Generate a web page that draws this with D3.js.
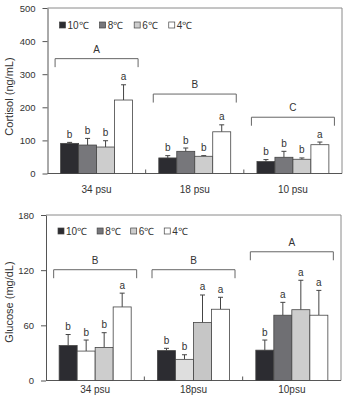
<!DOCTYPE html>
<html>
<head>
<meta charset="utf-8">
<script src="https://cdn.jsdelivr.net/npm/d3@7"></script>
<style>
  body { margin: 0; background: #fff; }
  text { font-family: "Liberation Sans", Arial, sans-serif; fill: #333; }
</style>
</head>
<body>
<svg></svg>
<script>
// data
var temps = ["10℃", "8℃", "6℃", "4℃"];
var tempColors = ["#2c2c31", "#77777b", "#cdcdcd", "#ffffff"];

var cortisolGroups = ["34 psu", "18 psu", "10 psu"];
var cortisolMean = [[91, 86, 80, 222], [47, 67, 52, 126], [36, 49, 43, 87]];
var cortisolErr = [[3, 20, 19, 46], [7, 10, 2, 21], [6, 18, 4, 8]];
var cortisolLetters = [["b", "b", "b", "a"], ["b", "b", "b", "a"], ["b", "b", "b", "a"]];
var cortisolGroupLetters = ["A", "B", "C"];
var cortisolBracket = [347, 240, 170];
var cortisolTicks = [0, 100, 200, 300, 400, 500];

var glucoseGroups = ["34 psu", "18psu", "10psu"];
var glucoseMean = [[38, 32, 36, 80], [32.5, 23, 63, 77.5], [33, 71, 77, 71]];
var glucoseErr = [[12, 12, 16, 15], [2.5, 5, 30, 13], [11, 14, 32, 27]];
var glucoseLetters = [["b", "b", "b", "a"], ["b", "b", "a", "a"], ["b", "a", "a", "a"]];
var glucoseGroupLetters = ["B", "B", "A"];
var glucoseBracket = [120.5, 120.5, 140];
var glucoseTicks = [0, 60, 120, 180];
// the glucose panel in the source uses different shades for some bars
var glucoseColors = [["#2c2c31", "#ffffff", "#cdcdcd", "#ffffff"],
                     ["#2c2c31", "#dedede", "#c6c6c6", "#ffffff"],
                     ["#2c2c31", "#6f6f73", "#cdcdcd", "#ffffff"]];

var svg = d3.select("svg")
            .attr("width", 345)
            .attr("height", 396);

var drawPanel = function(p)
{
  var x = d3.scaleBand()
            .domain(p.groups)
            .range([p.left, p.right]);

  var xIn = d3.scaleBand()
              .domain(temps)
              .range([0, x.bandwidth()])
              .paddingInner(0)
              .paddingOuter(0.73);

  var y = d3.scaleLinear()
            .domain([0, p.ticks[p.ticks.length - 1]])
            .range([p.bottom, p.top]);

  var g = svg.append("g");

  // frame top/right
  g.append("path")
   .attr("d", "M" + p.left + "," + y.range()[1] + "H" + p.right + "V" + p.bottom)
   .attr("fill", "none")
   .attr("stroke", "#8a8a8a")
   .attr("stroke-width", 1);

  // y axis
  var yAxis = g.append("g")
               .attr("transform", "translate(" + p.left + ",0)")
               .call(d3.axisLeft(y).tickValues(p.ticks).tickSize(5).tickPadding(7).tickSizeOuter(0));
  yAxis.select(".domain").attr("stroke", "#555");
  yAxis.selectAll(".tick line").attr("stroke", "#555");
  yAxis.selectAll(".tick text")
       .style("font-size", "9.5px")
       .style("font-family", "Liberation Sans, Arial, sans-serif")
       .attr("fill", "#333");

  // x axis line with inward ticks at group boundaries
  g.append("line")
   .attr("x1", p.left).attr("x2", p.right)
   .attr("y1", p.bottom).attr("y2", p.bottom)
   .attr("stroke", "#555");

  g.selectAll(".sep")
   .data(p.groups.slice(1))
   .enter()
   .append("line")
   .attr("x1", function(d){ return x(d); })
   .attr("x2", function(d){ return x(d); })
   .attr("y1", p.bottom)
   .attr("y2", p.bottom - 4)
   .attr("stroke", "#555");

  g.selectAll(".xlab")
   .data(p.groups)
   .enter()
   .append("text")
   .attr("x", function(d){ return x(d) + x.bandwidth() / 2; })
   .attr("y", p.bottom + p.labelOffset)
   .attr("text-anchor", "middle")
   .style("font-size", "10px")
   .text(function(d){ return d; });

  // y label
  g.append("text")
   .attr("transform", "translate(" + 12.5 + "," + p.labelY + ") rotate(-90)")
   .attr("text-anchor", "middle")
   .style("font-size", "11px")
   .text(p.yLabel);

  // bars per group
  var groups = g.selectAll(".grp")
                .data(p.groups)
                .enter()
                .append("g")
                .attr("transform", function(d){ return "translate(" + x(d) + ",0)"; });

  var rows = function(d, gi)
  {
    return temps.map(function(t, i)
    {
      return { t: t, v: p.mean[gi][i], e: p.err[gi][i], l: p.letters[gi][i], c: p.colors[gi][i] };
    });
  };

  groups.each(function(d, gi)
  {
    var grp = d3.select(this);
    var rs = rows(d, gi);

    grp.selectAll("line.err")
       .data(rs)
       .enter()
       .append("line")
       .attr("x1", function(r){ return xIn(r.t) + xIn.bandwidth() / 2; })
       .attr("x2", function(r){ return xIn(r.t) + xIn.bandwidth() / 2; })
       .attr("y1", function(r){ return y(r.v); })
       .attr("y2", function(r){ return y(r.v + r.e); })
       .attr("stroke", "#444");

    grp.selectAll("line.cap")
       .data(rs)
       .enter()
       .append("line")
       .attr("x1", function(r){ return xIn(r.t) + xIn.bandwidth() / 2 - 2.5; })
       .attr("x2", function(r){ return xIn(r.t) + xIn.bandwidth() / 2 + 2.5; })
       .attr("y1", function(r){ return y(r.v + r.e); })
       .attr("y2", function(r){ return y(r.v + r.e); })
       .attr("stroke", "#444");

    grp.selectAll("rect")
       .data(rs)
       .enter()
       .append("rect")
       .attr("x", function(r){ return xIn(r.t); })
       .attr("y", function(r){ return y(r.v); })
       .attr("width", xIn.bandwidth())
       .attr("height", function(r){ return p.bottom - y(r.v); })
       .attr("fill", function(r){ return r.c; })
       .attr("stroke", "#444")
       .attr("stroke-width", 0.8);

    grp.selectAll("text.let")
       .data(rs)
       .enter()
       .append("text")
       .attr("x", function(r){ return xIn(r.t) + xIn.bandwidth() / 2; })
       .attr("y", function(r){ return y(r.v + r.e) - 4.5; })
       .attr("text-anchor", "middle")
       .style("font-size", "10px")
       .text(function(r){ return r.l; });

    // bracket
    var cx = x.bandwidth() / 2;
    var by = y(p.bracket[gi]);
    grp.append("path")
       .attr("d", "M" + (cx - 41.5) + "," + (by + 8.5) + "V" + by + "H" + (cx + 41.5) + "V" + (by + 8.5))
       .attr("fill", "none")
       .attr("stroke", "#666");

    grp.append("text")
       .attr("x", cx)
       .attr("y", by - 6)
       .attr("text-anchor", "middle")
       .style("font-size", "10px")
       .text(p.groupLetters[gi]);
  });

  // legend
  var lx = p.left + 12;
  temps.forEach(function(t, i)
  {
    var item = g.append("g").attr("transform", "translate(" + lx + "," + p.legendY + ")");
    item.append("rect")
        .attr("x", 0).attr("y", -3)
        .attr("width", 6).attr("height", 6)
        .attr("fill", tempColors[i])
        .attr("stroke", "#444")
        .attr("stroke-width", 0.7);
    var tx = item.append("text")
                 .attr("x", 8)
                 .attr("y", 3.5)
                 .style("font-size", "10px")
                 .text(t);
    lx += 8 + tx.node().getComputedTextLength() + p.legendGap;
  });
};

drawPanel({
  groups: cortisolGroups, mean: cortisolMean, err: cortisolErr, letters: cortisolLetters,
  groupLetters: cortisolGroupLetters, bracket: cortisolBracket, ticks: cortisolTicks,
  colors: cortisolGroups.map(function(){ return tempColors; }),
  left: 47.5, right: 342, top: 8, bottom: 173.5,
  labelOffset: 19, yLabel: "Cortisol (ng/mL)", labelY: 96.5, legendY: 25, legendGap: 11
});

drawPanel({
  groups: glucoseGroups, mean: glucoseMean, err: glucoseErr, letters: glucoseLetters,
  groupLetters: glucoseGroupLetters, bracket: glucoseBracket, ticks: glucoseTicks,
  colors: glucoseColors,
  left: 46, right: 341, top: 215, bottom: 380.5,
  labelOffset: 12.5, yLabel: "Glucose (mg/dL)", labelY: 302, legendY: 231, legendGap: 10
});
</script>
</body>
</html>
